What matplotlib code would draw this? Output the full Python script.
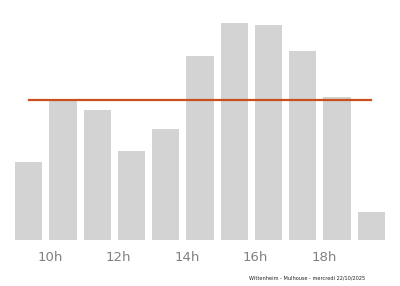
import matplotlib
matplotlib.use('Agg')
import matplotlib.pyplot as plt

hours = [9, 10, 11, 12, 13, 14, 15, 16, 17, 18, 19]
affluence = [36, 65, 60, 41, 51, 85, 100, 99, 87, 66, 13]
usual_level = 64.5
tick_hours = [10, 12, 14, 16, 18]
tick_labels = ['10h', '12h', '14h', '16h', '18h']
caption = 'Wittenheim - Mulhouse - mercredi 22/10/2025'

fig = plt.figure(figsize=(4, 2.86), dpi=100)
ax = fig.add_axes([0, 0.161, 1, 0.839])

ax.bar(hours, affluence, width=0.8, color='#d3d3d3')
ax.plot([hours[0], hours[-1]], [usual_level, usual_level], color='#c9501c', linewidth=1.6)

ax.set_xlim(8.162, 19.84)
ax.set_ylim(0, 110.6)
# labels sit on the bar's left edge, not its centre
ax.set_xticks([h - 0.38 for h in tick_hours])
ax.set_xticklabels(tick_labels, color='#808080', fontsize=9.5)
ax.tick_params(axis='x', length=0, pad=8)
ax.set_yticks([])
for s in ax.spines.values():
    s.set_visible(False)

fig.text(0.768, 0.027, caption, fontsize=3.6, ha='center', va='center', color='#222222')

plt.savefig('out.png', dpi=100)
plt.close()
